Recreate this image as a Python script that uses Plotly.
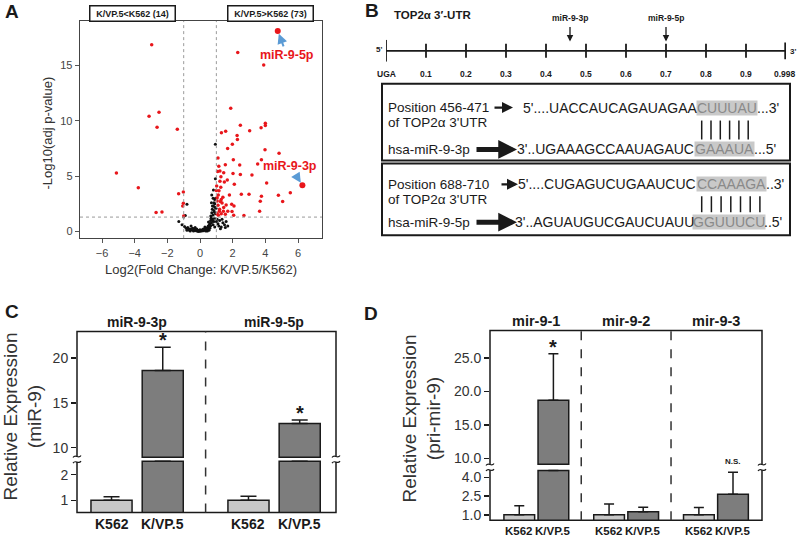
import numpy as np
import plotly.graph_objects as go

W, H = 799, 542
FONT = "Arial, Liberation Sans, sans-serif"
INK = "#1a1a1a"


def fx(px):
    return px / W


def fy(py):
    return 1 - py / H


# ---------------- Panel A data (volcano) ----------------
up_x = [2.31, 3.90, 1.88, 2.47, 4.00, 4.00, 3.74, 3.04, 1.31, 1.57, 2.27, 2.29, 1.98, 1.69,
        3.98, 4.84, 1.10, 2.04, 3.76, 1.55, 2.43, 3.53, 1.08, 1.22, 2.02, 2.47, 3.18, 1.28,
        1.67, 1.22, 1.49, 2.10, 4.08, 1.00, 1.16, 3.00, 3.76, 4.80, 5.53, 5.06, 3.69, 2.53,
        1.30, 1.35, 1.94, 2.08, 1.10, 1.45, 3.65, 2.69, 1.18, 1.43, 1.70, 1.96, 2.06, 1.12,
        1.25, 1.27, 1.12, 1.05, 1.40, 1.20, 1.05, 1.30, 1.55, 1.60, 1.02, 1.45, 1.80, 1.15,
        1.05]
up_y = [16.18, 15.04, 11.14, 9.61, 9.79, 9.58, 9.37, 9.10, 8.92, 9.06, 8.68, 8.32, 7.89, 7.50,
        7.38, 7.08, 6.63, 6.49, 6.49, 6.03, 6.00, 6.09, 5.43, 5.46, 5.25, 5.16, 5.10, 4.95,
        4.65, 4.53, 4.48, 4.27, 4.38, 3.70, 3.68, 3.36, 3.18, 3.27, 3.51, 2.70, 2.73, 3.36,
        2.90, 2.58, 2.46, 2.31, 2.38, 2.16, 1.83, 1.44, 1.83, 1.83, 1.83, 1.80, 1.47, 1.47,
        2.70, 4.00, 3.30, 3.05, 3.10, 2.00, 1.60, 1.60, 1.55, 2.40, 4.10, 5.30, 3.30, 5.90,
        2.75]
down_x = [-2.96, -3.12, -2.51, -2.63, -1.39, -5.12, -3.78, -1.02, -1.31, -2.69, -2.33,
          -1.02, -1.06, -1.00]
down_y = [16.87, 10.41, 10.78, 9.43, 9.25, 5.28, 3.96, 3.57, 3.42, 1.71, 1.77, 2.55, 2.31, 1.40]
ns_x = [-1.30, -1.10, -1.00, -0.90, -0.80, -0.95, -0.85, -0.75, -0.70, -0.60, -0.55, -0.50,
        -0.45, -0.40, -0.35, -0.30, -0.25, -0.20, -0.15, -0.10, -0.05, 0.00, 0.05, 0.10, 0.15,
        0.20, 0.25, 0.30, 0.35, 0.40, 0.45, 0.50, 0.50, 0.55, 0.60, 0.60, 0.65, 0.65, 0.70,
        0.70, 0.72, 0.75, 0.75, 0.80, 0.80, 0.82, 0.85, 0.86, 0.88, 0.90, 0.92, 0.72, 0.82,
        0.94, 0.94, 0.95, 0.90, 1.00, 1.05, 1.10, 1.15, 1.20, 1.30, 1.40, 1.50, 1.60, 1.70,
        1.25, 0.55, 0.45, -0.60, -0.30, 0.30, 0.85, 0.95, 0.90, 0.70, 0.80, -0.65, -0.20,
        0.10, 0.40, 0.62, 0.78, 0.68, 0.88, 0.58, 0.35, -0.10, -0.40, -0.80, 1.35, 1.55,
        0.98, 0.76, 0.66, 0.52, 0.20, 0.00, -0.50]
ns_y = [0.90, 0.60, 1.30, 1.45, 2.45, 0.45, 0.30, 0.35, 0.25, 0.20, 0.50, 0.15, 0.30, 0.10,
        0.20, 0.08, 0.15, 0.05, 0.10, 0.03, 0.12, 0.02, 0.08, 0.04, 0.12, 0.06, 0.18, 0.10,
        0.25, 0.15, 0.35, 0.20, 0.50, 0.40, 0.30, 0.70, 0.55, 1.00, 0.80, 1.30, 1.70, 1.10,
        2.00, 0.60, 1.50, 2.30, 1.90, 2.60, 1.20, 2.90, 2.20, 3.30, 3.75, 4.77, 7.89, 3.00,
        0.40, 0.90, 1.10, 0.70, 0.50, 1.00, 0.40, 0.80, 0.60, 0.90, 0.50, 0.25, 0.10, 0.05,
        0.05, 0.35, 0.40, 0.90, 1.60, 2.50, 2.60, 3.00, 0.12, 0.22, 0.14, 0.28, 0.45, 0.95,
        1.20, 1.75, 0.60, 0.05, 0.02, 0.05, 0.10, 1.10, 0.35, 2.10, 2.30, 1.40, 0.85, 0.22,
        0.15, 0.25]
hl_names = ["miR-9-5p", "miR-9-3p"]
hl_x = [4.76, 6.27]
hl_y = [18.13, 4.17]
hl_text_offset = [(9, 24), (-12, -19)]
fc_cut = 1.0
p_cut = 1.3
box_labels = ["K/VP.5&lt;K562 (14)", "K/VP.5&gt;K562 (73)"]

# ---------------- Panel B data ----------------
utr_ticks = [0.0, 0.1, 0.2, 0.3, 0.4, 0.5, 0.6, 0.7, 0.8, 0.9, 0.998]
utr_labels = ["UGA", "0.1", "0.2", "0.3", "0.4", "0.5", "0.6", "0.7", "0.8", "0.9", "0.998"]
site_names = ["miR-9-3p", "miR-9-5p"]
site_pos = [0.46, 0.70]
site_titles = ["Position 456-471", "Position 688-710"]
mirna_names = ["hsa-miR-9-3p", "hsa-miR-9-5p"]
utr_seq = [("5'....UACCAUCAGAUAGAA", "CUUUAU", "...3'"),
           ("5'....CUGAGUCUGAAUCUC", "CCAAAGA", "..3'")]
mir_seq = [("3'..UGAAAGCCAAUAGAUC", "GAAAUA", "...5'"),
           ("3'..AGUAUGUCGAUCUAUU", "GGUUUCU", "..5'")]

# ---------------- Panel C data ----------------
c_groups = ["miR-9-3p", "miR-9-5p"]
c_k562 = [1.0, 1.0]
c_k562_err = [0.14, 0.16]
c_kvp = [18.6, 12.7]
c_kvp_err = [2.6, 0.37]
c_sig = ["*", "*"]

# ---------------- Panel D data ----------------
d_groups = ["mir-9-1", "mir-9-2", "mir-9-3"]
d_k562 = [1.0, 1.0, 1.0]
d_k562_err = [0.72, 0.87, 0.59]
d_kvp = [18.7, 1.24, 2.65]
d_kvp_err = [6.95, 0.37, 1.75]
d_sig = ["*", "", "N.S."]
cond_names = ["K562", "K/VP.5"]

fig = go.Figure()
shapes = []
ann = []

# ================= Panel A =================
fig.add_trace(go.Scatter(x=ns_x, y=ns_y, mode="markers", xaxis="x", yaxis="y",
                         marker=dict(color="#111111", size=3), hoverinfo="skip"))
fig.add_trace(go.Scatter(x=up_x + down_x, y=up_y + down_y, mode="markers", xaxis="x", yaxis="y",
                         marker=dict(color="#e8161b", size=3.5), hoverinfo="skip"))
fig.add_trace(go.Scatter(x=hl_x, y=hl_y, mode="markers", xaxis="x", yaxis="y",
                         marker=dict(color="#e8161b", size=6), hoverinfo="skip"))
for xv in (-fc_cut, fc_cut):
    shapes.append(dict(type="line", xref="x", yref="y domain", x0=xv, x1=xv, y0=0, y1=1,
                       line=dict(color="#9a9a9a", width=1, dash="dot")))
shapes.append(dict(type="line", xref="x domain", yref="y", x0=0, x1=1, y0=p_cut, y1=p_cut,
                   line=dict(color="#9a9a9a", width=1, dash="dot")))
for name, xv, yv, (ox, oy) in zip(hl_names, hl_x, hl_y, hl_text_offset):
    ann.append(dict(x=xv, y=yv, xref="x", yref="y", text="<b>%s</b>" % name, showarrow=True,
                    ax=ox, ay=oy, arrowhead=2, arrowsize=1, arrowwidth=2, arrowcolor="#5b9bd5",
                    standoff=3, font=dict(family=FONT, size=12.5, color="#e8161b")))
for lab, cx in zip(box_labels, [132.5, 270.5]):
    ann.append(dict(x=fx(cx), y=fy(14), xref="paper", yref="paper", text="<b>%s</b>" % lab,
                    showarrow=False, bgcolor="white", bordercolor=INK, borderwidth=1.5,
                    borderpad=2, width=80, font=dict(family=FONT, size=9, color=INK)))
ann.append(dict(x=fx(48), y=fy(134), xref="paper", yref="paper", text="-Log10(adj p-value)",
                textangle=-90, showarrow=False, font=dict(family=FONT, size=13, color="#333")))
ann.append(dict(x=fx(201), y=fy(270), xref="paper", yref="paper",
                text="Log2(Fold Change: K/VP.5/K562)", showarrow=False,
                font=dict(family=FONT, size=13, color="#333")))

# ================= Panel B =================
tx, ty = [], []
for t in utr_ticks:
    if t == utr_ticks[0]:
        lo, hi = 0.0, 1.0
    elif t == utr_ticks[-1]:
        lo, hi = 0.12, 0.88
    else:
        lo, hi = 0.18, 0.82
    tx += [t, t, None]
    ty += [lo, hi, None]
tx += [utr_ticks[0], utr_ticks[-1]]
ty += [0.5, 0.5]
fig.add_trace(go.Scatter(x=tx, y=ty, mode="lines", xaxis="x2", yaxis="y2",
                         line=dict(color=INK, width=1.8), hoverinfo="skip"))
for t, lab in zip(utr_ticks, utr_labels):
    ann.append(dict(x=t, y=fy(74), xref="x2", yref="paper", text="<b>%s</b>" % lab,
                    showarrow=False, font=dict(family=FONT, size=8.5, color=INK)))
for s, nm in zip(site_pos, site_names):
    ann.append(dict(x=s, y=0.92, xref="x2", yref="y2", text="", showarrow=True, ax=0, ay=-16,
                    arrowhead=2, arrowsize=1, arrowwidth=1.3, arrowcolor=INK))
    ann.append(dict(x=s, y=fy(18), xref="x2", yref="paper", text="<b>%s</b>" % nm,
                    showarrow=False, font=dict(family=FONT, size=8.5, color=INK)))
ann.append(dict(x=fx(384), y=fy(50), xref="paper", yref="paper", text="<b>5'</b>",
                showarrow=False, xanchor="right", font=dict(family=FONT, size=8, color=INK)))
ann.append(dict(x=fx(788), y=fy(52), xref="paper", yref="paper", text="<b>3'</b>",
                showarrow=False, xanchor="left", font=dict(family=FONT, size=8, color=INK)))
ann.append(dict(x=fx(392), y=fy(15), xref="paper", yref="paper", text="<b>TOP2α 3′-UTR</b>",
                showarrow=False, xanchor="left", font=dict(family=FONT, size=11.5, color=INK)))

box_y = [(84, 161), (164, 236)]
line_y = [(108, 123, 150), (185, 200, 223)]
hl_cx = [(727, 724), (731, 729)]
pair_x0 = [701.7, 701.7]
pair_dx = [9.3, 9.7]
pair_y = [(121, 140), (197, 213)]
thin_arrow = [(493, 513), (500, 518)]
for i in range(2):
    y0, y1 = box_y[i]
    shapes.append(dict(type="rect", xref="paper", yref="paper", x0=fx(382), x1=fx(790),
                       y0=fy(y1), y1=fy(y0), line=dict(color=INK, width=2)))
    l1, l2, l3 = line_y[i]
    for txt, yy in [(site_titles[i], l1), ("of TOP2α 3'UTR", l2), (mirna_names[i], l3)]:
        ann.append(dict(x=fx(386), y=fy(yy), xref="paper", yref="paper", text=txt,
                        showarrow=False, xanchor="left", font=dict(family=FONT, size=13.5, color=INK)))
    for (pre, mid, suf), yy, cx in [(utr_seq[i], l1, hl_cx[i][0]), (mir_seq[i], l3, hl_cx[i][1])]:
        ann.append(dict(x=fx(cx), y=fy(yy), xref="paper", yref="paper", text=mid,
                        showarrow=False, bgcolor="#c9c9c9", borderpad=0, height=14,
                        font=dict(family=FONT, size=14, color="#8a8a8a")))
        half = len(mid) * 9.7 / 2
        ann.append(dict(x=fx(cx - half + 1), y=fy(yy), xref="paper", yref="paper", text=pre,
                        showarrow=False, xanchor="right", font=dict(family=FONT, size=14, color=INK)))
        ann.append(dict(x=fx(cx + half - 1), y=fy(yy), xref="paper", yref="paper", text=suf,
                        showarrow=False, xanchor="left", font=dict(family=FONT, size=14, color=INK)))
    npair = len(utr_seq[i][1])
    for k in range(npair):
        xx = pair_x0[i] + k * pair_dx[i]
        shapes.append(dict(type="line", xref="paper", yref="paper", x0=fx(xx), x1=fx(xx),
                           y0=fy(pair_y[i][1]), y1=fy(pair_y[i][0]), line=dict(color=INK, width=1.5)))
    a0, a1 = thin_arrow[i]
    ann.append(dict(x=fx(a1), y=fy(l1), xref="paper", yref="paper", text="", showarrow=True,
                    ax=-(a1 - a0), ay=0, arrowhead=2, arrowsize=1, arrowwidth=2.2, arrowcolor=INK))
    ann.append(dict(x=fx(517), y=fy(l3), xref="paper", yref="paper", text="", showarrow=True,
                    ax=-42, ay=0, arrowhead=2, arrowsize=0.75, arrowwidth=5, arrowcolor=INK))


# ================= Panels C and D (broken axes) =================
def bar_panel(xa, ylo, yhi, groups, k, ke, v, ve, sig, cap_lo, base_hi, off, bw, capw,
              sig_size):
    gx = np.arange(len(groups), dtype=float)
    for vals, errs, col, sgn, nm in [(k, ke, "#c8c8c8", -1, cond_names[0]),
                                     (v, ve, "#7d7d7d", 1, cond_names[1])]:
        vals = np.array(vals, dtype=float)
        errs = np.array(errs, dtype=float)
        xs = gx + sgn * off
        lo_y = np.minimum(vals, cap_lo)
        lo_e = np.where(vals <= cap_lo, errs, 0.0)
        fig.add_trace(go.Bar(x=xs, y=lo_y, xaxis=xa, yaxis=ylo, width=bw, name=nm,
                             marker=dict(color=col, line=dict(color=INK, width=1.5)),
                             error_y=dict(type="data", symmetric=False, array=lo_e,
                                          arrayminus=np.zeros_like(lo_e), color=INK,
                                          thickness=1.5, width=capw),
                             hoverinfo="skip"))
        hi_y = [val - base_hi if val > base_hi else None for val in vals]
        hi_e = [e if val > base_hi else None for val, e in zip(vals, errs)]
        fig.add_trace(go.Bar(x=xs, y=hi_y, base=base_hi, xaxis=xa, yaxis=yhi, width=bw, name=nm,
                             marker=dict(color=col, line=dict(color=INK, width=1.5)),
                             error_y=dict(type="data", symmetric=False, array=hi_e,
                                          arrayminus=[0] * len(hi_e), color=INK,
                                          thickness=1.5, width=capw),
                             hoverinfo="skip"))
    for i, (s, val, e) in enumerate(zip(sig, v, ve)):
        if not s:
            continue
        top = val + e
        yref = yhi if top > base_hi else ylo
        ann.append(dict(x=gx[i] + off, y=top, xref=xa, yref=yref, text="<b>%s</b>" % s,
                        showarrow=False, yanchor="bottom", yshift=(-6 if s == "*" else 4),
                        font=dict(family=FONT, size=(sig_size if s == "*" else 8), color=INK)))
    return gx


def frame(xa, top, bot, brk, seps):
    shapes.append(dict(type="rect", xref=xa + " domain", yref="paper", x0=0, x1=1,
                       y0=fy(bot), y1=fy(top), line=dict(color=INK, width=1.5)))
    for xd in (0, 1):
        shapes.append(dict(type="rect", xref=xa + " domain", yref="paper", x0=xd, x1=xd,
                           y0=fy(brk + 2.8), y1=fy(brk - 2.8), line=dict(color="white", width=4)))
    for s in seps:
        shapes.append(dict(type="line", xref=xa, yref="paper", x0=s, x1=s, y0=fy(bot), y1=fy(top),
                           line=dict(color="#333", width=1.5, dash="dash")))


def squiggles(px_x, brk):
    for X in px_x:
        for Y in (brk - 2.8, brk + 2.8):
            p = "M %f,%f C %f,%f %f,%f %f,%f" % (fx(X - 4), fy(Y + 1), fx(X - 1.5), fy(Y - 3),
                                                 fx(X + 1.5), fy(Y + 3), fx(X + 4), fy(Y - 1))
            shapes.append(dict(type="path", xref="paper", yref="paper", path=p,
                               line=dict(color=INK, width=1.2)))


def cond_labels(xa, g, off, py, size):
    for gi in g:
        for sgn, nm in zip((-1, 1), cond_names):
            ann.append(dict(x=gi + sgn * off, y=fy(py), xref=xa, yref="paper",
                            text="<b>%s</b>" % nm, showarrow=False,
                            font=dict(family=FONT, size=size, color=INK)))


gC = bar_panel("x3", "y3", "y4", c_groups, c_k562, c_k562_err, c_kvp, c_kvp_err, c_sig,
               cap_lo=2.52, base_hi=8.92, off=0.187, bw=0.30, capw=8, sig_size=20)
frame("x3", 332.7, 514.3, 461, [0.5])
squiggles([77, 336], 461)
cond_labels("x3", gC, 0.187, 526, 14)
gD = bar_panel("x4", "y5", "y6", d_groups, d_k562, d_k562_err, d_kvp, d_kvp_err, d_sig,
               cap_lo=4.55, base_hi=9.1, off=0.19, bw=0.342, capw=5, sig_size=20)
frame("x4", 331.7, 522.3, 469, [0.5, 1.5])
squiggles([490, 762], 469)
cond_labels("x4", gD, 0.19, 533, 11.5)

for g, nm in zip(gC, c_groups):
    ann.append(dict(x=g, y=fy(323), xref="x3", yref="paper", text="<b>%s</b>" % nm,
                    showarrow=False, font=dict(family=FONT, size=14, color=INK)))
for g, nm in zip(gD, d_groups):
    ann.append(dict(x=g, y=fy(322), xref="x4", yref="paper", text="<b>%s</b>" % nm,
                    showarrow=False, font=dict(family=FONT, size=14.5, color=INK)))
ann.append(dict(x=fx(23), y=fy(418), xref="paper", yref="paper",
                text="Relative Expression<br>(miR-9)", textangle=-90, showarrow=False,
                font=dict(family=FONT, size=19, color="#333")))
ann.append(dict(x=fx(422), y=fy(420), xref="paper", yref="paper",
                text="Relative Expression<br>(pri-mir-9)", textangle=-90, showarrow=False,
                font=dict(family=FONT, size=19, color="#333")))

for lab, px, py in [("A", 12, 12), ("B", 372, 11), ("C", 12, 313), ("D", 371, 315)]:
    ann.append(dict(x=fx(px), y=fy(py), xref="paper", yref="paper", text="<b>%s</b>" % lab,
                    showarrow=False, font=dict(family=FONT, size=19, color=INK)))

# explicit anchors everywhere (paper-referenced "auto" anchors shift text)
for a in ann:
    a.setdefault("xanchor", "center")
    a.setdefault("yanchor", "middle")

axis_common = dict(showgrid=False, zeroline=False, fixedrange=True)
yseg = dict(showgrid=False, zeroline=False, showline=False, ticks="outside", ticklen=5,
            tickwidth=1.5, tickcolor=INK, tickfont=dict(family=FONT, size=14, color="#333"))

fig.update_layout(
    width=W, height=H, margin=dict(l=0, r=0, t=0, b=0),
    paper_bgcolor="white", plot_bgcolor="white", showlegend=False, barmode="overlay",
    font=dict(family=FONT, color=INK),
    xaxis=dict(domain=[fx(80), fx(322)], range=[-7.35, 7.47], anchor="y",
               tickvals=[-6, -4, -2, 0, 2, 4, 6], ticks="outside", ticklen=4,
               tickcolor="#555", showline=True, mirror=True, linecolor="#444", linewidth=1.3,
               tickfont=dict(family=FONT, size=11, color="#444"), **axis_common),
    yaxis=dict(domain=[fy(239), fy(21)], range=[-0.6, 19.03], anchor="x",
               tickvals=[0, 5, 10, 15], ticks="outside", ticklen=4, tickcolor="#555",
               showline=True, mirror=True, linecolor="#444", linewidth=1.3,
               tickfont=dict(family=FONT, size=11, color="#444"), **axis_common),
    xaxis2=dict(domain=[fx(386), fx(786)], range=[0, 1], anchor="y2", visible=False,
                **axis_common),
    yaxis2=dict(domain=[fy(62), fy(40)], range=[0, 1], anchor="x2", visible=False,
                **axis_common),
    xaxis3=dict(domain=[fx(77), fx(336)], range=[-0.439, 1.452], anchor="y3",
                showticklabels=False, ticks="", showline=False, **axis_common),
    yaxis3=dict(domain=[fy(514.3), fy(461)], range=[0.53, 2.60], anchor="x3",
                tickvals=[1, 2], **yseg),
    yaxis4=dict(domain=[fy(461), fy(332.7)], range=[8.7, 22.96], anchor="x3",
                tickvals=[10, 15, 20], **yseg),
    xaxis4=dict(domain=[fx(490), fx(762)], range=[-0.516, 2.513], anchor="y5",
                showticklabels=False, ticks="", showline=False, **axis_common),
    yaxis5=dict(domain=[fy(522.3), fy(469)], range=[0.555, 4.80], anchor="x4",
                tickvals=[1.0, 2.5, 4.0], tickformat=".1f", **yseg),
    yaxis6=dict(domain=[fy(469), fy(331.7)], range=[8.65, 29.14], anchor="x4",
                tickvals=[10, 15, 20, 25], tickformat=".1f", **yseg),
    shapes=shapes, annotations=ann,
)

fig.write_html("out.html", config={"displayModeBar": False, "staticPlot": True},
               post_script="document.body.style.margin='0px';document.body.style.padding='0px';")
